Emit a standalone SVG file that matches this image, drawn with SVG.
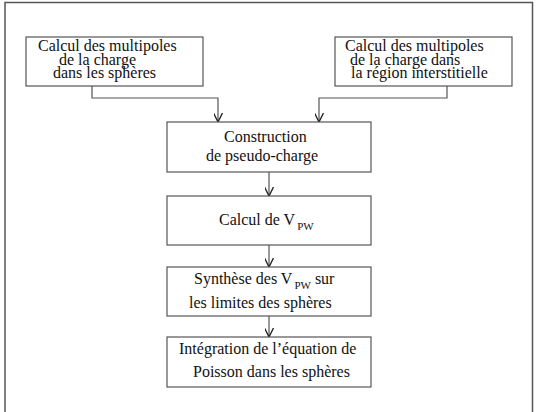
<svg xmlns="http://www.w3.org/2000/svg" width="541" height="412" viewBox="0 0 541 412">
<defs>
<style>
.box{fill:#fff;stroke:#555;stroke-width:1.2}
.t{font-family:"Liberation Serif",serif;font-size:16px;fill:#111}
.s{font-size:11px}
.c{fill:none;stroke:#555;stroke-width:1.2}
</style>
<marker id="ah" viewBox="0 0 10 10" refX="10" refY="5" markerWidth="9" markerHeight="9" markerUnits="userSpaceOnUse" orient="auto">
<path d="M0,0 L10,5 L0,10" fill="none" stroke="#222" stroke-width="1.5"/>
</marker>
</defs>
<rect width="541" height="412" fill="#fff"/>
<rect x="5" y="2.5" width="527.5" height="420" fill="none" stroke="#555" stroke-width="1.5"/>
<g id="connectors">
<path class="c" d="M92,86 V98 H218 V122" marker-end="url(#ah)"/>
<path class="c" d="M447,86 V98 H319 V122" marker-end="url(#ah)"/>
<path class="c" d="M269,172 V196" marker-end="url(#ah)"/>
<path class="c" d="M269,245 V267" marker-end="url(#ah)"/>
<path class="c" d="M269,316 V337" marker-end="url(#ah)"/>
</g>
<g id="n1">
<rect class="box" x="26" y="37" width="177" height="49"/>
<text class="t" x="38" y="51">Calcul des multipoles</text>
<text class="t" x="59" y="65">de la charge</text>
<text class="t" x="53" y="78">dans les sphères</text>
</g>
<g id="n2">
<rect class="box" x="335" y="37" width="177" height="49"/>
<text class="t" x="345" y="51">Calcul des multipoles</text>
<text class="t" x="350" y="65">de la charge dans</text>
<text class="t" x="351" y="78">la région interstitielle</text>
</g>
<g id="n3">
<rect class="box" x="167" y="122" width="204" height="50"/>
<text class="t" x="224" y="142">Construction</text>
<text class="t" x="206" y="161">de pseudo-charge</text>
</g>
<g id="n4">
<rect class="box" x="167" y="196" width="204" height="49"/>
<text class="t" x="219" y="225">Calcul de V<tspan class="s" dx="2" dy="5">PW</tspan></text>
</g>
<g id="n5">
<rect class="box" x="167" y="267" width="204" height="49"/>
<text class="t" x="194" y="284">Synthèse des V<tspan class="s" dx="2" dy="5">PW</tspan><tspan dx="4" dy="-5">sur</tspan></text>
<text class="t" x="189" y="308">les limites des sphères</text>
</g>
<g id="n6">
<rect class="box" x="167" y="337" width="204" height="50"/>
<text class="t" x="179" y="354">Intégration de l’équation de</text>
<text class="t" x="193" y="377">Poisson dans les sphères</text>
</g>
</svg>
